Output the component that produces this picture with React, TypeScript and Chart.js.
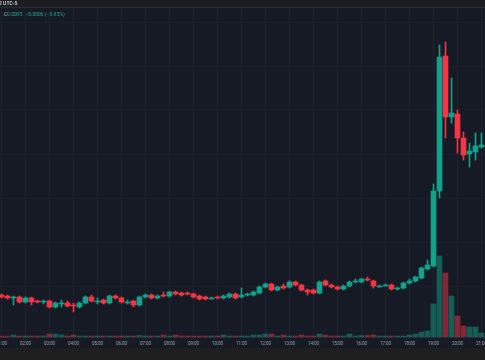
import React, { useEffect, useRef } from "react";
import { Chart, registerables } from "chart.js";

Chart.register(...registerables);

const hourLabels = [
  "01:00", "02:00", "03:00", "04:00", "05:00", "06:00", "07:00", "08:00", "09:00", "10:00", "11:00",
  "12:00", "13:00", "14:00", "15:00", "16:00", "17:00", "18:00", "19:00", "20:00", "21:00",
];

// 15-minute candles starting 01:00
const openP = [
  0.00200, 0.00195, 0.00190, 0.00190, 0.00165, 0.00185, 0.00170, 0.00170, 0.00170, 0.00140,
  0.00160, 0.00160, 0.00150, 0.00140, 0.00160, 0.00190, 0.00170, 0.00175, 0.00160, 0.00195,
  0.00185, 0.00165, 0.00170, 0.00150, 0.00190, 0.00200, 0.00185, 0.00200, 0.00195, 0.00215,
  0.00210, 0.00210, 0.00205, 0.00195, 0.00190, 0.00185, 0.00190, 0.00185, 0.00190, 0.00205,
  0.00190, 0.00205, 0.00200, 0.00210, 0.00240, 0.00255, 0.00225, 0.00245, 0.00240, 0.00265,
  0.00250, 0.00225, 0.00225, 0.00210, 0.00270, 0.00250, 0.00240, 0.00230, 0.00245, 0.00270,
  0.00265, 0.00280, 0.00270, 0.00245, 0.00250, 0.00250, 0.00230, 0.00235, 0.00260, 0.00270,
  0.00285, 0.00330, 0.00345, 0.00720, 0.01395, 0.01090, 0.01105, 0.00985, 0.00905, 0.00915,
  0.00940,
];
const highP = [
  0.00205, 0.00200, 0.00195, 0.00195, 0.00190, 0.00190, 0.00175, 0.00175, 0.00175, 0.00165,
  0.00175, 0.00170, 0.00160, 0.00165, 0.00195, 0.00200, 0.00185, 0.00180, 0.00200, 0.00200,
  0.00190, 0.00175, 0.00175, 0.00195, 0.00205, 0.00205, 0.00200, 0.00215, 0.00220, 0.00220,
  0.00215, 0.00215, 0.00210, 0.00200, 0.00195, 0.00190, 0.00195, 0.00200, 0.00210, 0.00210,
  0.00235, 0.00210, 0.00220, 0.00245, 0.00260, 0.00260, 0.00245, 0.00255, 0.00270, 0.00270,
  0.00255, 0.00230, 0.00230, 0.00270, 0.00275, 0.00255, 0.00245, 0.00250, 0.00270, 0.00280,
  0.00285, 0.00290, 0.00275, 0.00250, 0.00255, 0.00255, 0.00240, 0.00265, 0.00280, 0.00295,
  0.00340, 0.00375, 0.00755, 0.01450, 0.01465, 0.01285, 0.01125, 0.01015, 0.00960, 0.01010,
  0.01010,
];
const lowP = [
  0.00185, 0.00180, 0.00150, 0.00160, 0.00160, 0.00150, 0.00160, 0.00155, 0.00135, 0.00135,
  0.00140, 0.00140, 0.00115, 0.00135, 0.00155, 0.00165, 0.00155, 0.00155, 0.00155, 0.00180,
  0.00160, 0.00155, 0.00140, 0.00145, 0.00185, 0.00180, 0.00180, 0.00190, 0.00190, 0.00200,
  0.00195, 0.00200, 0.00185, 0.00175, 0.00175, 0.00180, 0.00180, 0.00180, 0.00185, 0.00180,
  0.00185, 0.00195, 0.00195, 0.00205, 0.00235, 0.00220, 0.00220, 0.00230, 0.00235, 0.00245,
  0.00220, 0.00200, 0.00205, 0.00205, 0.00245, 0.00235, 0.00225, 0.00225, 0.00240, 0.00260,
  0.00260, 0.00270, 0.00235, 0.00240, 0.00245, 0.00225, 0.00225, 0.00230, 0.00255, 0.00265,
  0.00280, 0.00325, 0.00340, 0.00685, 0.00985, 0.01060, 0.00910, 0.00875, 0.00840, 0.00875,
  0.00935,
];
const closeP = [
  0.00190, 0.00185, 0.00190, 0.00165, 0.00185, 0.00165, 0.00165, 0.00170, 0.00140, 0.00160,
  0.00160, 0.00145, 0.00145, 0.00160, 0.00190, 0.00170, 0.00170, 0.00160, 0.00195, 0.00185,
  0.00165, 0.00165, 0.00150, 0.00190, 0.00200, 0.00185, 0.00195, 0.00195, 0.00215, 0.00205,
  0.00200, 0.00205, 0.00190, 0.00180, 0.00180, 0.00185, 0.00185, 0.00195, 0.00205, 0.00185,
  0.00200, 0.00205, 0.00215, 0.00240, 0.00255, 0.00225, 0.00240, 0.00235, 0.00265, 0.00250,
  0.00225, 0.00215, 0.00210, 0.00265, 0.00250, 0.00240, 0.00230, 0.00245, 0.00265, 0.00270,
  0.00280, 0.00275, 0.00245, 0.00245, 0.00250, 0.00230, 0.00235, 0.00260, 0.00270, 0.00290,
  0.00335, 0.00350, 0.00720, 0.01390, 0.01090, 0.01110, 0.00985, 0.00900, 0.00920, 0.00945,
  0.00950,
];
// volume in thousands
const volumeK = [
  10, 10, 20, 10, 10, 10, 10, 10, 30, 30,
  20, 10, 20, 10, 10, 10, 10, 10, 10, 10,
  10, 10, 10, 15, 10, 10, 10, 20, 10, 20,
  10, 10, 10, 10, 10, 10, 10, 20, 10, 10,
  10, 10, 20, 20, 30, 30, 10, 20, 10, 10,
  20, 10, 10, 30, 20, 10, 10, 10, 30, 10,
  15, 15, 20, 10, 10, 10, 10, 10, 20, 30,
  50, 60, 330, 810, 640, 410, 210, 110, 100, 100,
  40,
];

const UP = "#14a08a";
const DOWN = "#f23645";
const UP_VOL = "rgba(20,160,138,0.5)";
const DOWN_VOL = "rgba(242,54,69,0.5)";

export default function App() {
  const ref = useRef<HTMLCanvasElement | null>(null);

  useEffect(() => {
    const canvas = ref.current;
    if (!canvas) return;
    const isUp = openP.map((o, i) => closeP[i] >= o);
    const bodies = openP.map((o, i) => ({ x: i, y: [o, closeP[i]] }));
    const wicks = lowP.map((l, i) => ({ x: i, y: [l, highP[i]] }));
    const vols = volumeK.map((v, i) => ({ x: i, y: v }));
    const gridStart = 0.00025;
    const gridStep = 0.0022;

    const chart = new Chart(canvas, {
      type: "bar",
      data: {
        datasets: [
          {
            data: bodies as any,
            backgroundColor: isUp.map((u) => (u ? UP : DOWN)),
            barThickness: 5,
            minBarLength: 1,
            grouped: false,
            borderWidth: 0,
            yAxisID: "y",
          } as any,
          {
            data: wicks as any,
            backgroundColor: isUp.map((u) => (u ? UP : DOWN)),
            barThickness: 1,
            grouped: false,
            borderWidth: 0,
            yAxisID: "y",
          } as any,
          {
            data: vols as any,
            backgroundColor: isUp.map((u) => (u ? UP_VOL : DOWN_VOL)),
            barThickness: 5,
            grouped: false,
            borderWidth: 0,
            yAxisID: "yv",
          } as any,
        ],
      },
      options: {
        animation: false,
        responsive: false,
        devicePixelRatio: 1,
        layout: { padding: 0 },
        plugins: { legend: { display: false }, tooltip: { enabled: false } },
        scales: {
          x: {
            type: "linear",
            min: -0.25,
            max: -0.25 + 485 / 6,
            offset: false,
            position: "bottom",
            grid: { color: "#1f2330", drawTicks: false, lineWidth: 1, offset: false },
            border: { display: true, color: "#2a2e39" },
            ticks: {
              autoSkip: false,
              maxRotation: 0,
              minRotation: 0,
              padding: 4,
              color: "#a3a6af",
              font: { family: "Roboto", size: 4.5 },
              callback: (_v: any, idx: number) => hourLabels[idx] ?? "",
            },
            afterBuildTicks: (s: any) => {
              s.ticks = hourLabels.map((_, i) => ({ value: i * 4 }));
            },
            afterFit: (s: any) => {
              s.height = 23;
              s.paddingLeft = 0;
              s.paddingRight = 0;
              if (s._margins) {
                s._margins.left = 0;
                s._margins.right = 0;
              }
            },
          } as any,
          y: {
            type: "linear",
            position: "right",
            min: -0.0001,
            max: 0.01675,
            grid: { color: "#1b1f2b", drawTicks: false, lineWidth: 1 },
            border: { display: false },
            ticks: { display: false },
            afterBuildTicks: (s: any) => {
              const t: any[] = [];
              for (let v = gridStart; v < 0.0166; v += gridStep) t.push({ value: v });
              s.ticks = t;
            },
            afterFit: (s: any) => {
              s.width = 0;
              s.paddingTop = 0;
              s.paddingBottom = 0;
            },
          } as any,
          yv: {
            type: "linear",
            display: false,
            min: 0,
            max: 3370,
          },
        },
      },
    });
    return () => chart.destroy();
  }, []);

  return (
    <div
      style={{
        position: "fixed",
        left: 0,
        top: 0,
        width: 485,
        height: 360,
        background: "#161a25",
        overflow: "hidden",
        fontFamily: "Roboto, 'DejaVu Sans', sans-serif",
      }}
    >
      <canvas ref={ref} width={485} height={360} style={{ display: "block", width: 485, height: 360 }} />
      <div
        style={{
          position: "absolute",
          left: 0,
          top: 0,
          width: 485,
          height: 7,
          background: "#1c1d20",
          borderBottom: "1px solid #2a2d35",
          color: "#d1d4dc",
          fontSize: 5,
          lineHeight: "7px",
          fontWeight: 600,
          whiteSpace: "nowrap",
        }}
      >
        <span style={{ marginLeft: -1 }}>2 UTC-5</span>
      </div>
      <div
        style={{
          position: "absolute",
          left: -3,
          top: 11,
          fontSize: 5,
          lineHeight: "6px",
          whiteSpace: "nowrap",
          color: "#b2b5be",
        }}
      >
        <span style={{ color: "#22ab94" }}>0</span>
        <span style={{ marginLeft: 4 }}>C</span>
        <span style={{ color: "#22ab94" }}>0.0095</span>
        <span style={{ color: "#22ab94", marginLeft: 3 }}>−0.0006 (−5.93%)</span>
      </div>
      <div
        style={{
          position: "absolute",
          left: 0,
          top: 348,
          width: 485,
          height: 12,
          background: "#1e1f1e",
        }}
      />
    </div>
  );
}
